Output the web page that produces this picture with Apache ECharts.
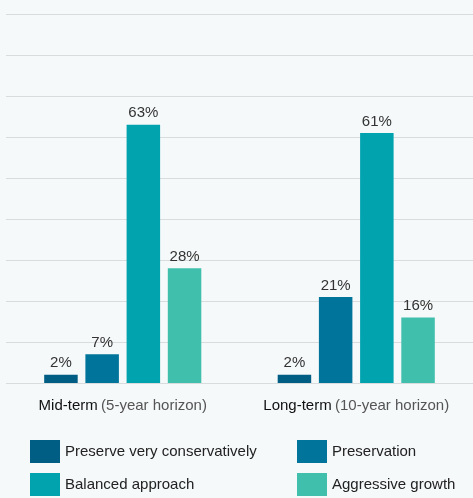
<!DOCTYPE html>
<html><head><meta charset="utf-8">
<script src="https://cdn.jsdelivr.net/npm/echarts@6/dist/echarts.min.js"></script>
<style>html,body{margin:0;padding:0;background:#f5f9fa;}#c{width:473px;height:498px;}</style>
</head><body><div id="c"></div>
<script>
const categories = ['Mid-term', 'Long-term'];
const categorySubs = ['(5-year horizon)', '(10-year horizon)'];
const seriesNames = ['Preserve very conservatively', 'Preservation', 'Balanced approach', 'Aggressive growth'];
const preserveVeryConservatively = [2, 2];
const preservation = [7, 21];
const balancedApproach = [63, 61];
const aggressiveGrowth = [28, 16];
const colors = ['#005d84', '#00749a', '#00a3ae', '#41bfad'];
const values = [preserveVeryConservatively, preservation, balancedApproach, aggressiveGrowth];

const chart = echarts.init(document.getElementById('c'), null, {renderer: 'canvas'});
const font = 'Liberation Sans, Arial, Helvetica, sans-serif';
const legendBase = {orient: 'vertical', top: 440, height: 58, padding: 0,
  itemWidth: 30, itemHeight: 23, itemGap: 10, icon: 'rect',
  textStyle: {fontSize: 15, color: '#222', fontFamily: font}};
chart.setOption({
  backgroundColor: '#f5f9fa',
  animation: false,
  grid: {left: 6, width: 473, top: 14, bottom: 115, containLabel: false},
  legend: [
    Object.assign({}, legendBase, {data: [seriesNames[0], seriesNames[2]], left: 30}),
    Object.assign({}, legendBase, {data: [seriesNames[1], seriesNames[3]], left: 297})
  ],
  xAxis: {
    type: 'category', data: categories,
    axisLine: {show: false}, axisTick: {show: false},
    axisLabel: {
      interval: 0, margin: 15,
      formatter: (v, i) => '{a|' + v + '} {b|' + categorySubs[i] + '}',
      rich: {
        a: {fontSize: 15, color: '#111', fontFamily: font},
        b: {fontSize: 15, color: '#555', fontFamily: font}
      }
    }
  },
  yAxis: {
    type: 'value', min: 0, max: 90, interval: 10,
    axisLabel: {show: false}, axisLine: {show: false}, axisTick: {show: false},
    splitLine: {lineStyle: {color: '#d9dcdd', width: 1}}
  },
  series: values.map((d, i) => ({
    name: seriesNames[i], type: 'bar', data: d,
    barWidth: 33.5, barGap: '23%',
    itemStyle: {color: colors[i]},
    label: {show: true, position: 'top', distance: 4, formatter: '{c}%',
            fontSize: 15, color: '#333', fontFamily: font}
  }))
});
</script></body></html>
